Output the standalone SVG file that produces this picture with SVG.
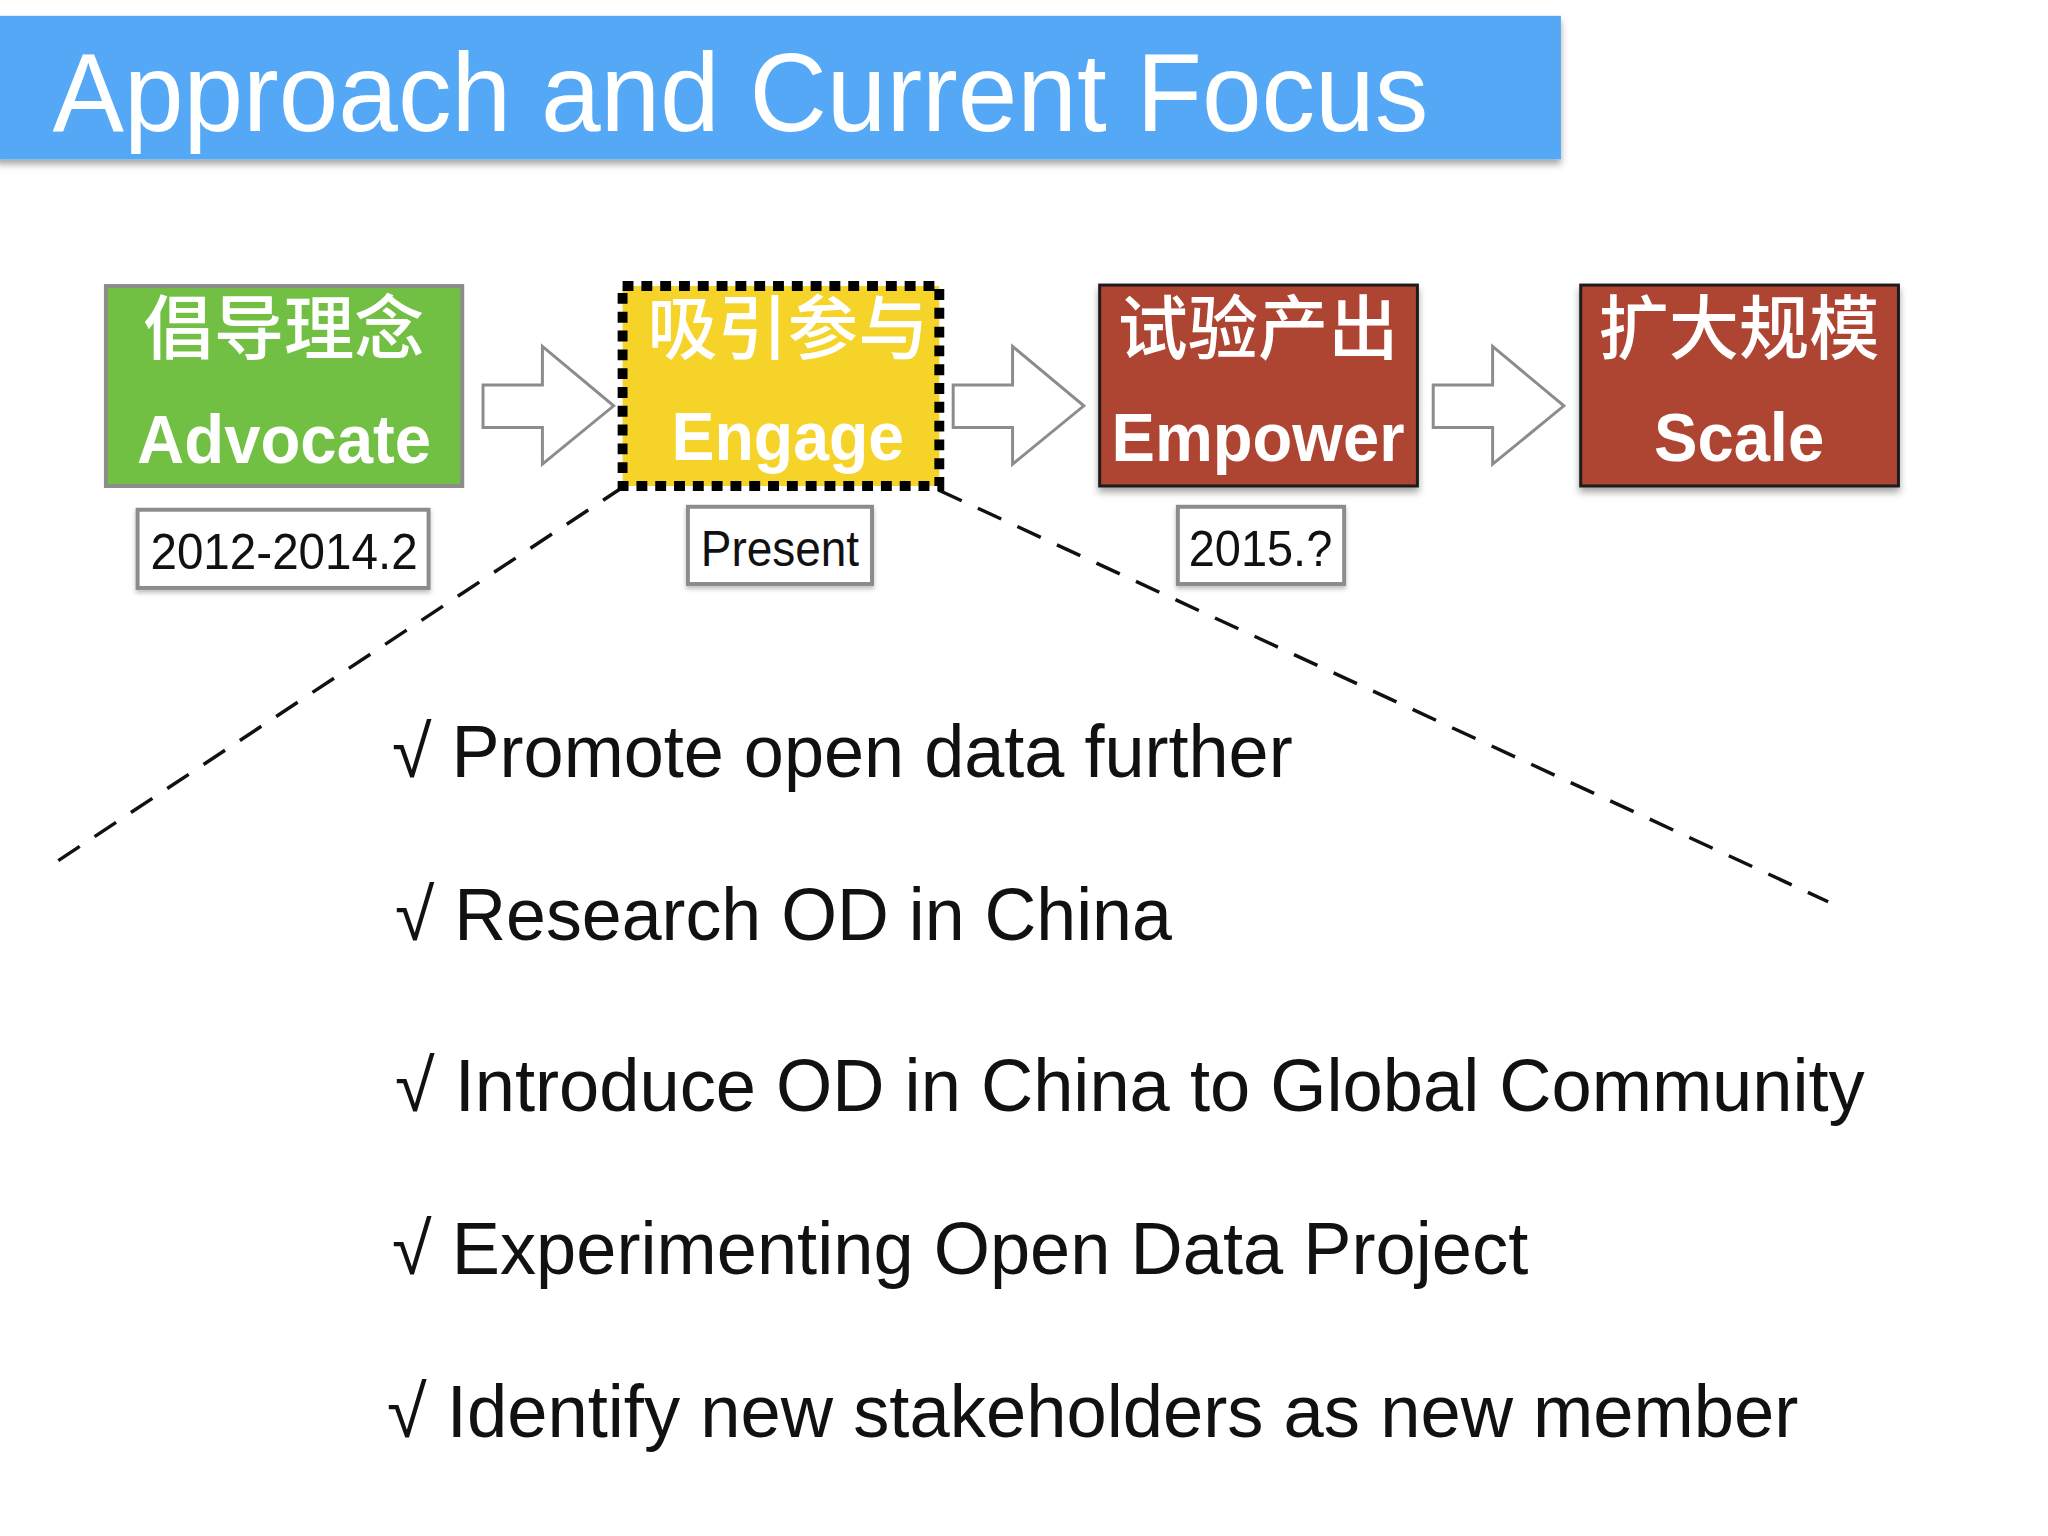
<svg xmlns="http://www.w3.org/2000/svg" width="2048" height="1536" viewBox="0 0 2048 1536">
<defs>
<filter id="sh" x="-10%" y="-10%" width="120%" height="130%">
<feDropShadow dx="0" dy="5" stdDeviation="4" flood-color="#000" flood-opacity="0.35"/>
</filter>
<filter id="shs" x="-10%" y="-10%" width="120%" height="130%">
<feDropShadow dx="0" dy="3" stdDeviation="2" flood-color="#000" flood-opacity="0.25"/>
</filter>
</defs>
<style>
.cn{font-family:"Noto Sans CJK SC","Noto Sans",sans-serif;font-size:71px;font-weight:500;fill:#fff;text-anchor:middle}
.en{font-family:"Liberation Sans",Arial,sans-serif;font-weight:bold;font-size:70px;fill:#fff;text-anchor:middle}
.date{fill:#fff;stroke:#8c8c8c;stroke-width:4}
.dt{font-family:"Liberation Sans",Arial,sans-serif;font-size:50px;fill:#111}
.arrow{fill:#fff;stroke:#8c8c8c;stroke-width:3;stroke-linejoin:miter}
.dash{fill:none;stroke:#111;stroke-width:3.5;stroke-dasharray:26 18}
.bl{font-family:"Liberation Sans",Arial,sans-serif;font-size:74px;fill:#111}
</style>
<rect width="2048" height="1536" fill="#fff"/>
<g transform="scale(0.9898)">
<g id="title">
<rect x="-5" y="16" width="1582" height="145" fill="#54a8f6" filter="url(#sh)"/>
<text x="53" y="132" font-family="Liberation Sans, Arial, sans-serif" font-size="112" fill="#fff" textLength="1390" lengthAdjust="spacingAndGlyphs">Approach and Current Focus</text>
</g>
<g id="connectors">
<path class="arrow" d="M488,389 H548 V350 L620,410 L548,469 V432 H488 Z"/>
<path class="arrow" d="M963,389 H1023 V350 L1095,410 L1023,469 V432 H963 Z"/>
<path class="arrow" d="M1448,389 H1508 V350 L1580,410 L1508,469 V432 H1448 Z"/>
<line class="dash" x1="631" y1="491" x2="46" y2="878"/>
<line class="dash" x1="948" y1="495" x2="1847" y2="911"/>
</g>
<g id="advocate">
<rect x="107" y="289" width="360" height="202" fill="#71bf43" stroke="#8c8c8c" stroke-width="4"/>
<text class="cn" x="287" y="358">倡导理念</text>
<text class="en" x="287" y="468" textLength="297" lengthAdjust="spacingAndGlyphs">Advocate</text>
</g>
<g id="engage">
<rect x="629" y="289" width="320" height="202" fill="#f5d329" stroke="#000" stroke-width="10" stroke-dasharray="11 8"/>
<text class="cn" x="796" y="358">吸引参与</text>
<text class="en" x="796" y="465" textLength="235" lengthAdjust="spacingAndGlyphs">Engage</text>
</g>
<g id="empower">
<rect x="1111" y="288" width="321" height="203" fill="#ae4433" stroke="#1a1a1a" stroke-width="3" filter="url(#sh)"/>
<text class="cn" x="1271" y="358">试验产出</text>
<text class="en" x="1271" y="466" textLength="296" lengthAdjust="spacingAndGlyphs">Empower</text>
</g>
<g id="scale">
<rect x="1597" y="288" width="321" height="203" fill="#ae4433" stroke="#1a1a1a" stroke-width="3" filter="url(#sh)"/>
<text class="cn" x="1757" y="358">扩大规模</text>
<text class="en" x="1757" y="466" textLength="172" lengthAdjust="spacingAndGlyphs">Scale</text>
</g>
<g id="date1">
<rect class="date" x="139" y="515" width="294" height="79" filter="url(#shs)"/>
<text class="dt" x="152" y="575" textLength="270" lengthAdjust="spacingAndGlyphs">2012-2014.2</text>
</g>
<g id="date2">
<rect class="date" x="695" y="512" width="186" height="78" filter="url(#shs)"/>
<text class="dt" x="708" y="572" textLength="160" lengthAdjust="spacingAndGlyphs">Present</text>
</g>
<g id="date3">
<rect class="date" x="1190" y="512" width="168" height="78" filter="url(#shs)"/>
<text class="dt" x="1201" y="572" textLength="145" lengthAdjust="spacingAndGlyphs">2015.?</text>
</g>
<g id="bullets">
<text class="bl" x="396" y="785" textLength="910" lengthAdjust="spacingAndGlyphs">√ Promote open data further</text>
<text class="bl" x="399" y="950" textLength="785" lengthAdjust="spacingAndGlyphs">√ Research OD in China</text>
<text class="bl" x="399" y="1122" textLength="1485" lengthAdjust="spacingAndGlyphs">√ Introduce OD in China to Global Community</text>
<text class="bl" x="396" y="1287" textLength="1148" lengthAdjust="spacingAndGlyphs">√ Experimenting Open Data Project</text>
<text class="bl" x="391" y="1452" textLength="1426" lengthAdjust="spacingAndGlyphs">√ Identify new stakeholders as new member</text>
</g>
</g>
</svg>
